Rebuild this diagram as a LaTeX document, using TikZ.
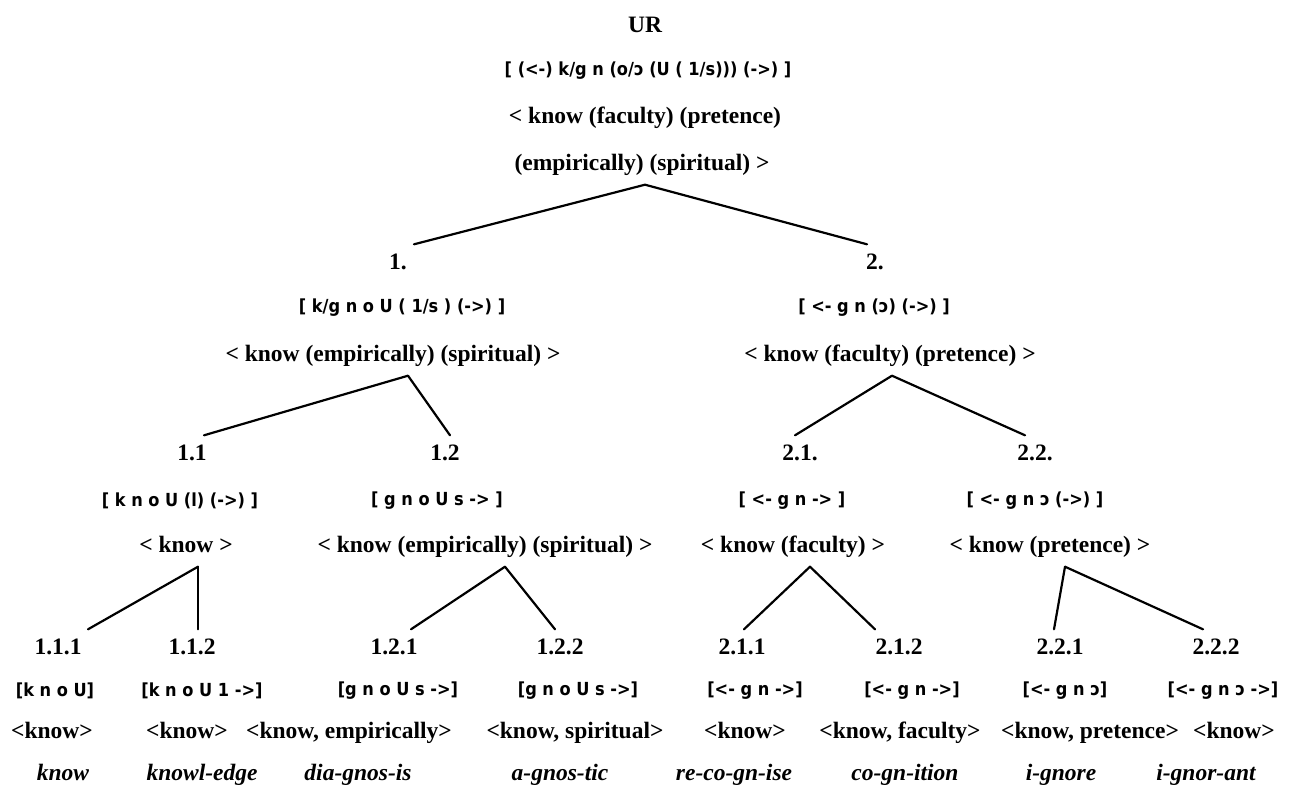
\documentclass[tikz,border=0pt]{standalone}
\usepackage{fontspec}
\setmainfont{Liberation Serif}
\newfontfamily\phonfont{DejaVu Sans Condensed}
\usetikzlibrary{positioning,calc}

\tikzset{
  numlabel/.style={font=\fontsize{23.5}{27}\selectfont\bfseries, text height=15pt, text depth=0pt, inner xsep=1pt, inner ysep=10pt},
  phon/.style={font=\phonfont\fontsize{18}{21}\selectfont\bfseries, inner sep=1pt},
  gloss/.style={font=\fontsize{23.5}{27}\selectfont\bfseries, text height=16pt, text depth=5pt, inner xsep=1pt, inner ysep=9pt},
  word/.style={font=\fontsize{23.5}{27}\selectfont\bfseries\itshape, text height=16pt, text depth=5pt, inner sep=1pt},
  branch/.style={line width=2.2pt, line cap=round}
}

\begin{document}
\begin{tikzpicture}[x=1pt,y=-1pt]
    \useasboundingbox (0,0) rectangle (1291,803);

    % UR
    \node[numlabel] (ur) at (645,25) {UR};
    \node[phon] (ur-p) at (648,71) {[ (<-)\ k/g n\ (o/ɔ (U ( 1/s))) (->) ]};
    \node[gloss] (ur-g1) at (645,118) {< know (faculty) (pretence)};
    \node[gloss] (ur-g) at (642,165) {(empirically) (spiritual) >};

    % Level 1
    \node[numlabel] (n1) at (398,262) {1.};
    \node[phon] (p1) at (402,308) {[ k/g n o U ( 1/s ) (->) ]};
    \node[gloss] (g1) at (393,356) {< know (empirically) (spiritual) >};
    \node[numlabel] (n2) at (875,262) {2.};
    \node[phon] (p2) at (874,308) {[ <- g n (ɔ) (->) ]};
    \node[gloss] (g2) at (890,356) {< know (faculty) (pretence) >};

    % Level 2
    \node[numlabel] (n11) at (192,453) {1.1};
    \node[phon] (p11) at (180,501) {[ k n o U (l) (->) ]};
    \node[gloss] (g11) at (186,547) {< know >};
    \node[numlabel] (n12) at (445,453) {1.2};
    \node[phon] (p12) at (437,501) {[ g n o U s -> ]};
    \node[gloss] (g12) at (485,547) {< know (empirically) (spiritual) >};
    \node[numlabel] (n21) at (800,453) {2.1.};
    \node[phon] (p21) at (792,501) {[ <- g n -> ]};
    \node[gloss] (g21) at (793,547) {< know (faculty) >};
    \node[numlabel] (n22) at (1035,453) {2.2.};
    \node[phon] (p22) at (1035,501) {[ <- g n ɔ (->) ]};
    \node[gloss] (g22) at (1050,547) {< know (pretence) >};

    % Level 3: name / label x / phon x / gloss x / word x / texts
    \foreach \name/\xl/\xp/\xg/\xw/\lab/\ph/\gl/\word in {
        111/58/55/52/63/1.1.1/{[k n o U]}/{<know>}/know,
        112/192/202/187/202/1.1.2/{[k n o U 1 ->]}/{<know>}/knowl-edge,
        121/394/398/349/358/1.2.1/{[g n o U s ->]}/{<know, empirically>}/dia-gnos-is,
        122/560/578/575/560/1.2.2/{[g n o U s ->]}/{<know, spiritual>}/a-gnos-tic,
        211/742/755/745/734/2.1.1/{[<- g n ->]}/{<know>}/re-co-gn-ise,
        212/899/912/900/905/2.1.2/{[<- g n ->]}/{<know, faculty>}/co-gn-ition,
        221/1060/1065/1090/1061/2.2.1/{[<- g n ɔ]}/{<know, pretence>}/i-gnore,
        222/1216/1223/1234/1206/2.2.2/{[<- g n ɔ ->]}/{<know>}/i-gnor-ant} {
        \node[numlabel] (n\name) at (\xl,647) {\lab};
        \node[phon] (p\name) at (\xp,691) {\ph};
        \node[gloss] (g\name) at (\xg,733) {\gl};
        \node[word] (w\name) at (\xw,775) {\word};
    }

    % Branches
    \draw[branch] ([xshift=3pt]ur-g.south) -- ([xshift=16pt]n1.north);
    \draw[branch] ([xshift=3pt]ur-g.south) -- ([xshift=-8pt]n2.north);
    \draw[branch] ([xshift=15pt]g1.south) -- ([xshift=12pt]n11.north);
    \draw[branch] ([xshift=15pt]g1.south) -- ([xshift=5pt]n12.north);
    \draw[branch] ([xshift=2pt]g2.south) -- ([xshift=-5pt]n21.north);
    \draw[branch] ([xshift=2pt]g2.south) -- ([xshift=-10pt]n22.north);
    \draw[branch] ([xshift=12pt]g11.south) -- ([xshift=30pt]n111.north);
    \draw[branch] ([xshift=12pt]g11.south) -- ([xshift=6pt]n112.north);
    \draw[branch] ([xshift=20pt]g12.south) -- ([xshift=17pt]n121.north);
    \draw[branch] ([xshift=20pt]g12.south) -- ([xshift=-5pt]n122.north);
    \draw[branch] ([xshift=17pt]g21.south) -- ([xshift=2pt]n211.north);
    \draw[branch] ([xshift=17pt]g21.south) -- ([xshift=-24pt]n212.north);
    \draw[branch] ([xshift=15pt]g22.south) -- ([xshift=-6pt]n221.north);
    \draw[branch] ([xshift=15pt]g22.south) -- ([xshift=-13pt]n222.north);
\end{tikzpicture}
\end{document}
